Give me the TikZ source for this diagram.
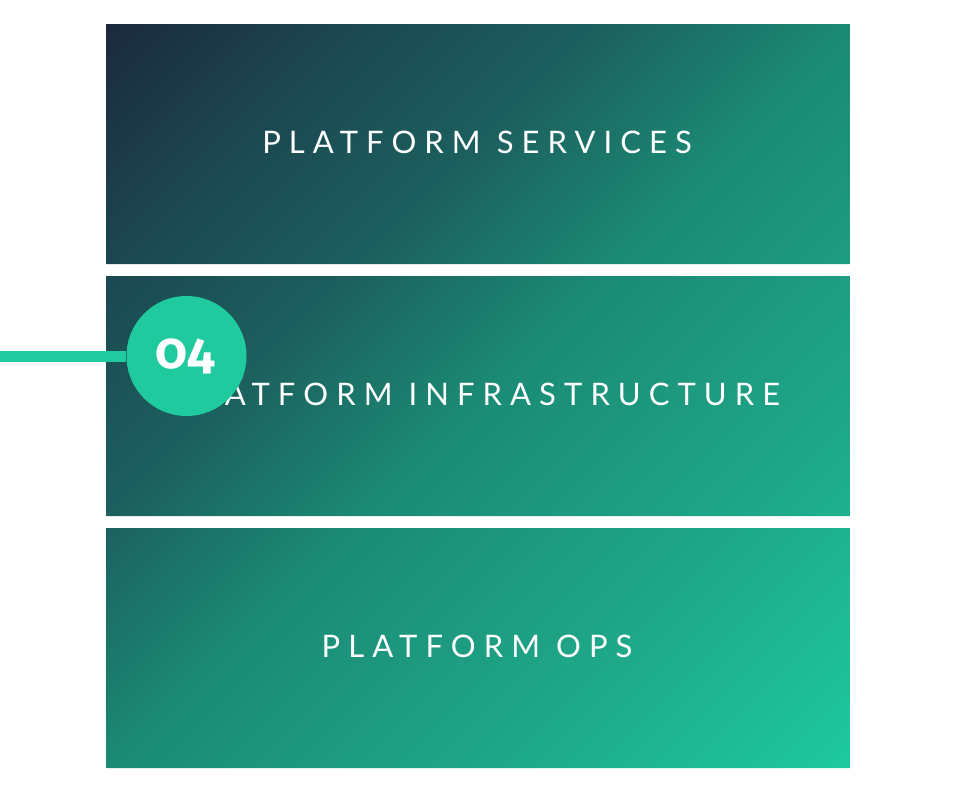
\documentclass[tikz,border=0pt]{standalone}
\usepackage{fontspec}
\setmainfont{Lato}
\newfontfamily\labelfont[LetterSpace=26]{Lato}
\newfontfamily\badgefont[Numbers=OldStyle]{Fira Sans}
\definecolor{gA}{HTML}{1B2A3B}
\definecolor{gB}{HTML}{1C4A52}
\definecolor{gC}{HTML}{1C5F5E}
\definecolor{gD}{HTML}{1B8A74}
\definecolor{gE}{HTML}{1EA687}
\definecolor{gF}{HTML}{1EC99D}
\definecolor{mint}{HTML}{1FCB9E}
\pgfdeclarehorizontalshading{diaggrad}{100bp}{color(0bp)=(gA); color(14.65bp)=(gA); color(27.37bp)=(gB); color(37.98bp)=(gC); color(50bp)=(gD); color(67.68bp)=(gE); color(85.35bp)=(gF); color(100bp)=(gF)}
\tikzset{
  boxlabel/.style={text=white, font=\labelfont\fontsize{31}{31}\selectfont, anchor=center, inner sep=0pt},
  badgestyle/.style={circle, fill=mint, minimum size=120pt, inner sep=0pt},
  badgetext/.style={text=white, font=\badgefont\bfseries\fontsize{51}{51}\selectfont, inner sep=0pt, anchor=base},
  connector/.style={draw=mint, line width=11pt}
}
\begin{document}
\begin{tikzpicture}[x=1pt,y=-1pt]
\useasboundingbox (0,0) rectangle (958,795);
\begin{scope}
  \clip (106,24) rectangle (850,264)
        (106,276) rectangle (850,516)
        (106,528) rectangle (850,768);
  \shade[shading=diaggrad, shading angle=-45] (106,24) rectangle (850,768);
\end{scope}
\node[boxlabel] (lblA) at (477,142) {PLATFORM SERVICES};
\node[boxlabel] (lblB) at (477,394) {PLATFORM INFRASTRUCTURE};
\node[boxlabel] (lblC) at (477,646) {PLATFORM OPS};
\coordinate (lstart) at (0,356);
\node[badgestyle] (badge) at (186.5,356) {};
\node[badgetext] (badgetxt) at (185.5,368.5) {04};
\draw[connector] (lstart) -- (badge.west);
\end{tikzpicture}
\end{document}
